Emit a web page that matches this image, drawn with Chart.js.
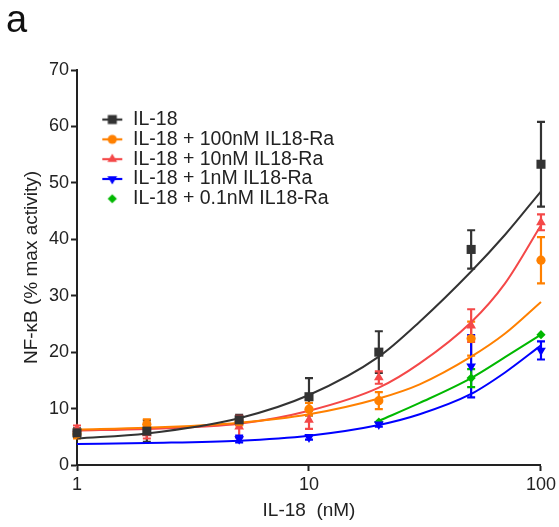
<!DOCTYPE html>
<html><head><meta charset="utf-8">
<script src="https://cdn.jsdelivr.net/npm/chart.js@4.4.1/dist/chart.umd.min.js"></script>
<style>html,body{margin:0;padding:0;background:#fff;}#wrap{width:559px;height:527px;position:relative;}</style>
</head><body><div id="wrap"><canvas id="c" width="559" height="527"></canvas></div>
<script>
// ---- data ----
const doses = [1, 2, 5, 10, 20, 50, 100];
const il18Mean = [5.7, 6.0, 8.0, 12.1, 20.0, 38.2, 53.3];
const il18Err  = [0.8, 1.9, 0.9, 3.3, 3.7, 3.4, 7.5];
const ra100Mean = [5.5, 7.2, 7.7, 9.9, 11.4, 22.4, 36.3];
const ra100Err  = [0.8, 0.9, 0.7, 1.1, 1.5, 3.0, 4.1];
const ra10Mean = [6.4, 5.6, 6.8, 8.0, 15.5, 24.7, 43.0];
const ra10Err  = [0.6, 0.9, 1.9, 1.6, 1.1, 2.9, 1.4];
const ra1Mean = [null, null, 4.6, 4.9, 7.2, 17.5, 20.3];
const ra1Err  = [null, null, 0.6, 0.4, 0.4, 5.5, 1.6];
const ra01Mean = [null, null, null, null, 7.6, 15.4, 23.1];
const ra01Err  = [null, null, null, null, 0, 1.6, 0];

const fitDoses = [1, 2, 5, 10, 20, 30, 50, 70, 100];
const il18Fit  = [4.7, 5.6, 8.3, 12.4, 19.2, 25.4, 34.3, 40.8, 48.5];
const ra100Fit = [6.3, 6.6, 7.5, 9.0, 11.8, 14.3, 19.2, 23.3, 28.9];
const ra10Fit  = [6.1, 6.4, 7.3, 9.6, 13.7, 18.0, 25.3, 32.2, 42.5];
const ra1Fit   = [3.7, 3.9, 4.3, 5.2, 7.1, 9.0, 12.6, 16.4, 21.2];
const ra01Fit  = [null, null, null, null, 7.8, 11.0, 15.4, 19.1, 23.1];

const seriesNames = ['IL-18', 'IL-18 + 100nM IL18-Ra', 'IL-18 + 10nM IL18-Ra', 'IL-18 + 1nM IL18-Ra', 'IL-18 + 0.1nM IL18-Ra'];
const xTickValues = [1, 10, 100];
const yMin = 0, yMax = 70, yStep = 10;
const xTitle = 'IL-18  (nM)';
const yTitle = 'NF-\u03BAB (% max activity)';
const panelLabel = 'a';

// ---- styles ----
const FONT = '"Liberation Sans", Arial, Helvetica, sans-serif';
const colors = ['#333333', '#ff8000', '#f44848', '#0000ff', '#00b800'];
const shapes = ['rect', 'circle', 'triangle', 'triangle', 'rectRot'];
const rotations = [0, 0, 0, 180, 0];
const radii = [6.4, 4.6, 5.6, 5.6, 4.6];
const legendLine = [true, true, true, true, false];

const means = [il18Mean, ra100Mean, ra10Mean, ra1Mean, ra01Mean];
const errs = [il18Err, ra100Err, ra10Err, ra1Err, ra01Err];
const fits = [il18Fit, ra100Fit, ra10Fit, ra1Fit, ra01Fit];

function pts(xs, ys) {
  const out = [];
  xs.forEach((x, i) => { if (ys[i] !== null && ys[i] !== undefined) out.push({x: x, y: ys[i]}); });
  return out;
}

function drawShape(ctx, shape, rot, r, x, y) {
  ctx.beginPath();
  if (shape === 'rect') {
    const s = r * Math.SQRT1_2;
    ctx.rect(x - s, y - s, 2 * s, 2 * s);
  } else if (shape === 'circle') {
    ctx.arc(x, y, r, 0, Math.PI * 2);
  } else if (shape === 'triangle') {
    const rad = rot * Math.PI / 180;
    ctx.moveTo(x + Math.sin(rad) * r, y - Math.cos(rad) * r);
    const a = rad + 2 * Math.PI / 3, b = rad + 4 * Math.PI / 3;
    ctx.lineTo(x + Math.sin(a) * r, y - Math.cos(a) * r);
    ctx.lineTo(x + Math.sin(b) * r, y - Math.cos(b) * r);
    ctx.closePath();
  } else if (shape === 'rectRot') {
    ctx.moveTo(x - r, y); ctx.lineTo(x, y - r); ctx.lineTo(x + r, y); ctx.lineTo(x, y + r); ctx.closePath();
  }
  ctx.fill();
}

const legendIcons = colors.map((c, i) => {
  const cv = document.createElement('canvas');
  cv.width = 22; cv.height = 14;
  const g = cv.getContext('2d');
  g.fillStyle = c; g.strokeStyle = c;
  if (legendLine[i]) { g.lineWidth = 2.2; g.beginPath(); g.moveTo(1, 7); g.lineTo(21, 7); g.stroke(); }
  drawShape(g, shapes[i], rotations[i], radii[i], 11, 7);
  return cv;
});

const datasets = [];
means.forEach((m, i) => {
  datasets.push({
    label: seriesNames[i], data: pts(doses, m), showLine: false,
    pointStyle: shapes[i], rotation: rotations[i], pointRadius: radii[i], pointHoverRadius: radii[i],
    backgroundColor: colors[i], borderColor: colors[i], pointBorderWidth: 0, clip: false
  });
});
fits.forEach((f, i) => {
  datasets.push({
    label: seriesNames[i] + ' fit', data: pts(fitDoses, f), showLine: true,
    borderColor: colors[i], borderWidth: 2, pointRadius: 0, pointHoverRadius: 0,
    cubicInterpolationMode: 'monotone', fill: false, clip: false
  });
});

const errorBars = {
  id: 'errorBars',
  beforeDatasetsDraw(chart) {
    const ctx = chart.ctx, xs = chart.scales.x, ys = chart.scales.y;
    ctx.save();
    ctx.lineWidth = 2.2;
    means.forEach((m, i) => {
      ctx.strokeStyle = colors[i];
      doses.forEach((d, j) => {
        const v = m[j], e = errs[i][j];
        if (v === null || !e) return;
        const px = xs.getPixelForValue(d);
        const top = ys.getPixelForValue(v + e), bot = ys.getPixelForValue(v - e);
        ctx.beginPath();
        ctx.moveTo(px, top); ctx.lineTo(px, bot);
        ctx.moveTo(px - 4, top); ctx.lineTo(px + 4, top);
        ctx.moveTo(px - 4, bot); ctx.lineTo(px + 4, bot);
        ctx.stroke();
      });
    });
    ctx.restore();
  }
};

const legendPlace = {
  id: 'legendPlace',
  afterLayout(chart) {
    const lg = chart.legend;
    if (!lg) return;
    const w = lg.width;
    lg.left = 101; lg.top = 109.5;
    lg.right = lg.left + w; lg.bottom = lg.top + 300; lg.height = 300;
  }
};

const panelText = {
  id: 'panelText',
  afterDraw(chart) {
    const ctx = chart.ctx;
    ctx.save();
    ctx.fillStyle = '#111';
    ctx.font = '38px ' + FONT;
    ctx.textBaseline = 'alphabetic';
    ctx.fillText(panelLabel, 6, 31.5);
    ctx.restore();
  }
};

new Chart(document.getElementById('c'), {
  type: 'line',
  data: { datasets: datasets },
  options: {
    responsive: false, animation: false, devicePixelRatio: 1,
    layout: { padding: { top: 70, right: 18, bottom: 0, left: 0 } },
    plugins: {
      tooltip: { enabled: false },
      title: { display: false },
      legend: {
        display: true, position: 'chartArea', align: 'start',
        labels: {
          usePointStyle: true, pointStyleWidth: 22, padding: 0.3,
          color: '#222', font: { family: FONT, size: 19.5 },
          generateLabels: () => seriesNames.map((n, i) => ({
            text: n, pointStyle: legendIcons[i], fillStyle: colors[i], strokeStyle: colors[i],
            lineWidth: 0, hidden: false, datasetIndex: i, fontColor: '#222'
          }))
        }
      }
    },
    scales: {
      x: {
        type: 'logarithmic', min: 1, max: 100,
        afterBuildTicks: (s) => { s.ticks = xTickValues.map(v => ({ value: v })); },
        afterFit: (s) => { s.height = 62; },
        ticks: { color: '#222', font: { family: FONT, size: 18 }, padding: 3, maxRotation: 0, autoSkip: false,
          callback: (v) => String(v) },
        grid: { display: true, drawOnChartArea: false, drawTicks: true, tickLength: 6, tickColor: '#222', tickWidth: 2 },
        border: { display: true, color: '#222', width: 2 },
        title: { display: true, text: xTitle, color: '#222', font: { family: FONT, size: 19 }, padding: { top: 0, bottom: 5 } }
      },
      y: {
        type: 'linear', min: yMin, max: yMax,
        afterFit: (s) => { s.width = 77; },
        ticks: { stepSize: yStep, color: '#222', font: { family: FONT, size: 18 }, padding: 2 },
        grid: { display: true, drawOnChartArea: false, drawTicks: true, tickLength: 6, tickColor: '#222', tickWidth: 2 },
        border: { display: true, color: '#222', width: 2 },
        title: { display: true, text: yTitle, color: '#222', font: { family: FONT, size: 19 }, padding: { top: 20, bottom: 0 } }
      }
    }
  },
  plugins: [errorBars, legendPlace, panelText]
});
</script>
</body></html>
